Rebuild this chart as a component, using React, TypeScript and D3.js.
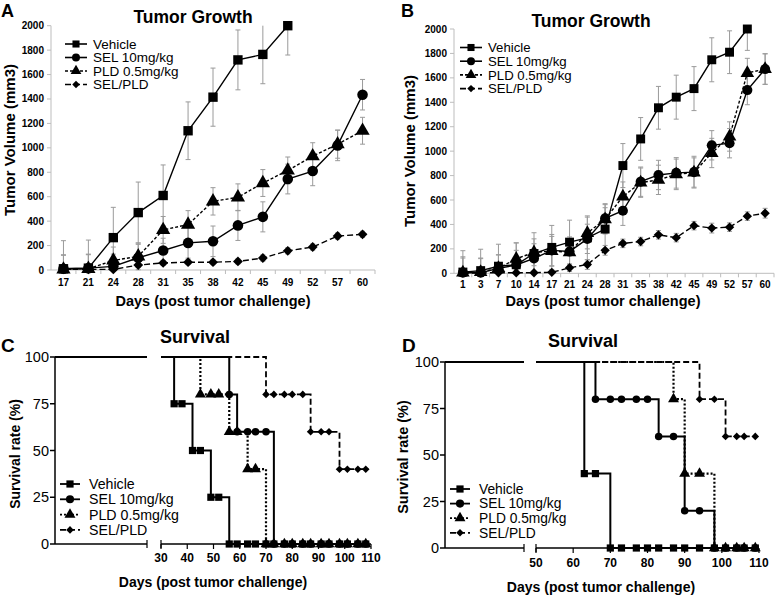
import React from 'react';
import * as d3 from 'd3';

const FONT = '"Liberation Sans", Arial, Helvetica, sans-serif';

// ---------- Tumor growth data (panel A) ----------
const daysA = [17, 21, 24, 28, 31, 35, 38, 42, 45, 49, 52, 57, 60];
const vehicleA = [10, 15, 265, 470, 610, 1140, 1415, 1720, 1765, 2000];
const vehicleAErr = [230, 230, 248, 250, 250, 236, 238, 245, 240, 240];
const selA = [10, 15, 30, 100, 160, 222, 235, 365, 435, 745, 810, 1020, 1435];
const selAErr = [110, 110, 100, 110, 100, 125, 125, 123, 123, 122, 120, 125, 125];
const pldA = [5, 10, 78, 112, 328, 372, 562, 595, 712, 815, 932, 1030, 1140];
const pldAErr = [120, 120, 110, 110, 110, 114, 112, 110, 110, 110, 110, 115, 110];
const comboA = [5, 5, 5, 40, 58, 64, 64, 70, 98, 157, 188, 278, 292];
const comboAErr = [20, 20, 20, 20, 20, 20, 20, 20, 25, 25, 25, 25, 25];

// ---------- Tumor growth data (panel B) ----------
const daysB = [1, 3, 7, 10, 14, 17, 21, 24, 28, 31, 35, 38, 42, 45, 49, 52, 57, 60];
const vehicleB = [10, 22, 58, 70, 162, 212, 255, 290, 362, 882, 1100, 1355, 1442, 1512, 1748, 1810, 2000];
const vehicleBErr = [175, 175, 180, 180, 170, 180, 180, 180, 175, 180, 175, 175, 180, 180, 180, 175, 175];
const selB = [5, 5, 40, 68, 122, 188, 178, 282, 450, 512, 750, 805, 822, 828, 1048, 1065, 1500, 1672];
const selBErr = [130, 120, 110, 120, 120, 130, 120, 120, 120, 120, 120, 120, 125, 130, 120, 120, 120, 125];
const pldB = [5, 10, 42, 118, 172, 182, 172, 330, 442, 628, 742, 765, 810, 825, 985, 1120, 1640, 1672];
const pldBErr = [120, 110, 110, 130, 110, 120, 110, 130, 120, 120, 120, 120, 125, 120, 120, 120, 120, 125];
const comboB = [3, 3, 5, 5, 5, 8, 45, 72, 188, 245, 260, 315, 292, 390, 370, 378, 468, 492];
const comboBErr = [10, 10, 10, 10, 10, 10, 30, 40, 40, 35, 35, 35, 35, 35, 40, 35, 35, 40];

const growthTicks = [0, 200, 400, 600, 800, 1000, 1200, 1400, 1600, 1800, 2000];

// ---------- Survival data (panel C) ----------
const vehicleCTimes = [35, 42, 49, 56];
const vehicleCVals = [75, 50, 25, 0];
const vehicleCMarks = [35, 38, 42, 45, 49, 52, 56, 59, 63, 66, 70, 73, 77, 80, 84, 87, 91, 94, 98, 101, 105, 108];
const selCTimes = [56, 59, 73];
const selCVals = [80, 60, 0];
const selCMarks = [56, 59, 63, 66, 70, 73, 77, 80, 84, 87, 91, 94, 98, 101, 105, 108];
const pldCTimes = [45, 56, 63, 70];
const pldCVals = [80, 60, 40, 0];
const pldCMarks = [45, 49, 52, 56, 59, 63, 66, 70, 73, 77, 80, 84, 87, 91, 94, 98, 101, 105, 108];
const comboCTimes = [70, 87, 98];
const comboCVals = [80, 60, 40];
const comboCMarks = [70, 73, 77, 80, 84, 87, 91, 94, 98, 101, 105, 108];

// ---------- Survival data (panel D) ----------
const vehicleDTimes = [63, 70];
const vehicleDVals = [40, 0];
const vehicleDMarks = [63, 66, 70, 73, 77, 80, 83, 87, 90, 94, 98, 101, 104, 106, 109];
const selDTimes = [66, 83, 90, 98];
const selDVals = [80, 60, 20, 0];
const selDMarks = [66, 70, 73, 77, 80, 83, 87, 90, 94, 98, 101, 104, 106, 109];
const pldDTimes = [87, 90, 98];
const pldDVals = [80, 40, 0];
const pldDMarks = [87, 90, 94, 98, 101, 104, 106, 109];
const comboDTimes = [94, 101];
const comboDVals = [80, 60];
const comboDMarks = [94, 98, 101, 104, 106, 109];

const survivalTicks = [0, 25, 50, 75, 100];
const survivalXTicksC = [30, 40, 50, 60, 70, 80, 90, 100, 110];
const survivalXTicksD = [50, 60, 70, 80, 90, 100, 110];

const legendNames = ['Vehicle', 'SEL 10mg/kg', 'PLD 0.5mg/kg', 'SEL/PLD'];

type Shape = 'square' | 'circle' | 'triangle' | 'diamond';

function symbolD(shape: Shape, size: number) {
  const t =
    shape === 'square' || shape === 'diamond'
      ? d3.symbolSquare
      : shape === 'circle'
      ? d3.symbolCircle
      : d3.symbolTriangle;
  return d3.symbol().type(t).size(size)() as string;
}

function Marker({ shape, x, y, size }: { shape: Shape; x: number; y: number; size: number }) {
  const s = shape === 'diamond' ? size * 0.55 : size;
  return (
    <path
      d={symbolD(shape, s)}
      transform={`translate(${x},${y})${shape === 'diamond' ? ' rotate(45)' : ''}`}
      fill="#000"
    />
  );
}

// ---------- Growth panel ----------
type GSeries = { vals: number[]; errs: number[]; shape: Shape; dash: string };

function GrowthPanel(p: {
  cats: number[];
  series: GSeries[];
  x0: number;
  x1: number;
  yTop: number;
  yBot: number;
  letter: string;
  letterX: number;
  letterY: number;
  titleX: number;
  titleY: number;
  ylabX: number;
  ylabY: number;
  xlabX: number;
  xlabY: number;
  xtickY: number;
  legX: number;
  legY: number;
  legDy: number;
  legFont: number;
  tickFont: number;
  msize: number;
}) {
  const x = d3.scaleBand<number>().domain(p.cats).range([p.x0, p.x1]);
  const bw = x.bandwidth();
  const cx = (d: number) => (x(d) as number) + bw / 2;
  const y = d3.scaleLinear().domain([0, 2000]).range([p.yBot, p.yTop]);
  const line = d3
    .line<[number, number]>()
    .x((d) => cx(d[0]))
    .y((d) => y(d[1]));
  const clamp = (v: number) => Math.max(0, Math.min(2000, v));
  const axisColor = '#bdbdbd';
  return (
    <g>
      <text x={p.letterX} y={p.letterY} fontSize={18} fontWeight="bold" fontFamily={FONT}>
        {p.letter}
      </text>
      <text x={p.titleX} y={p.titleY} fontSize={17.5} fontWeight="bold" fontFamily={FONT} textAnchor="middle">
        Tumor Growth
      </text>
      {/* y axis */}
      <line x1={p.x0} x2={p.x0} y1={y(0)} y2={y(2000)} stroke={axisColor} strokeWidth={1} />
      {growthTicks.map((t) => (
        <g key={t}>
          <line x1={p.x0 - 4} x2={p.x0} y1={y(t)} y2={y(t)} stroke={axisColor} />
          <text
            x={p.x0 - 7}
            y={y(t)}
            dy="0.35em"
            fontSize={p.tickFont}
            fontWeight="bold"
            fontFamily={FONT}
            textAnchor="end"
          >
            {t}
          </text>
        </g>
      ))}
      {/* x axis */}
      <line x1={p.x0} x2={p.x1} y1={y(0)} y2={y(0)} stroke={axisColor} strokeWidth={1} />
      {p.cats.map((c) => (
        <g key={c}>
          <line
            x1={(x(c) as number) + bw}
            x2={(x(c) as number) + bw}
            y1={y(0)}
            y2={y(0) + 4}
            stroke={axisColor}
          />
          <text
            x={cx(c)}
            y={p.xtickY}
            dy="0.35em"
            fontSize={p.tickFont}
            fontWeight="bold"
            fontFamily={FONT}
            textAnchor="middle"
          >
            {c}
          </text>
        </g>
      ))}
      {/* error bars */}
      {p.series.map((s, si) =>
        s.vals.map((v, i) => {
          const e = s.errs[i];
          const X = cx(p.cats[i]);
          const y1 = y(clamp(v - e));
          const y2 = y(clamp(v + e));
          return (
            <g key={`e${si}-${i}`} stroke="#9a9a9a" strokeWidth={1}>
              <line x1={X} x2={X} y1={y1} y2={y2} />
              {v + e <= 2000 && <line x1={X - 2.5} x2={X + 2.5} y1={y2} y2={y2} />}
              {v - e >= 0 && <line x1={X - 2.5} x2={X + 2.5} y1={y1} y2={y1} />}
            </g>
          );
        })
      )}
      {/* lines */}
      {p.series.map((s, si) => (
        <path
          key={`l${si}`}
          d={line(s.vals.map((v, i) => [p.cats[i], v] as [number, number])) as string}
          fill="none"
          stroke="#000"
          strokeWidth={1.4}
          strokeDasharray={s.dash}
        />
      ))}
      {/* markers */}
      {p.series.map((s, si) =>
        s.vals.map((v, i) => (
          <Marker key={`m${si}-${i}`} shape={s.shape} x={cx(p.cats[i])} y={y(v)} size={p.msize} />
        ))
      )}
      {/* legend */}
      {p.series.map((s, si) => {
        const ly = p.legY + si * p.legDy;
        return (
          <g key={`lg${si}`}>
            <line
              x1={p.legX}
              x2={p.legX + 22}
              y1={ly}
              y2={ly}
              stroke="#000"
              strokeWidth={1.6}
              strokeDasharray={s.dash}
            />
            <Marker shape={s.shape} x={p.legX + 11} y={ly} size={50} />
            <text x={p.legX + 28} y={ly} dy="0.35em" fontSize={p.legFont} fontFamily={FONT}>
              {legendNames[si]}
            </text>
          </g>
        );
      })}
      <text
        transform={`translate(${p.ylabX},${p.ylabY}) rotate(-90)`}
        fontSize={15}
        fontWeight="bold"
        fontFamily={FONT}
        textAnchor="middle"
        dy="0.35em"
      >
        Tumor Volume (mm3)
      </text>
      <text x={p.xlabX} y={p.xlabY} fontSize={14.5} fontWeight="bold" fontFamily={FONT} textAnchor="middle">
        Days (post tumor challenge)
      </text>
    </g>
  );
}

// ---------- Survival panel ----------
type SSeries = { times: number[]; vals: number[]; marks: number[]; shape: Shape; dash: string; width: number };

function SurvivalPanel(p: {
  id: string;
  series: SSeries[];
  axisX: number;
  y100: number;
  y0: number;
  seg1: [number, number];
  seg1Dom: [number, number];
  seg2: [number, number];
  seg2Dom: [number, number];
  xticks: number[];
  end: number;
  letter: string;
  letterX: number;
  letterY: number;
  titleX: number;
  titleY: number;
  ylabX: number;
  ylabY: number;
  ylabFont: number;
  xlabX: number;
  xlabY: number;
  xtickY: number;
  legX: number;
  legY: number;
  legDy: number;
  legFont: number;
}) {
  const y = d3.scaleLinear().domain([0, 100]).range([p.y0, p.y100]);
  const s1 = d3.scaleLinear().domain(p.seg1Dom).range(p.seg1);
  const s2 = d3.scaleLinear().domain(p.seg2Dom).range(p.seg2);
  const pts = (s: SSeries): [number, number][] => [
    [0, 100],
    ...s.times.map((t, i) => [t, s.vals[i]] as [number, number]),
    [p.end, s.vals[s.vals.length - 1]],
  ];
  const valAt = (s: SSeries, day: number) => {
    let v = 100;
    s.times.forEach((t, i) => {
      if (t <= day) v = s.vals[i];
    });
    return v;
  };
  const mk = (sc: d3.ScaleLinear<number, number>) =>
    d3
      .line<[number, number]>()
      .x((d) => sc(d[0]))
      .y((d) => y(d[1]))
      .curve(d3.curveStepAfter);
  const l1 = mk(s1);
  const l2 = mk(s2);
  const tf = { fontFamily: FONT };
  return (
    <g>
      <defs>
        <clipPath id={`${p.id}-c1`}>
          <rect x={p.seg1[0]} y={p.y100 - 10} width={p.seg1[1] - p.seg1[0]} height={p.y0 - p.y100 + 20} />
        </clipPath>
        <clipPath id={`${p.id}-c2`}>
          <rect x={p.seg2[0]} y={p.y100 - 10} width={p.seg2[1] - p.seg2[0] + 10} height={p.y0 - p.y100 + 20} />
        </clipPath>
      </defs>
      <text x={p.letterX} y={p.letterY} fontSize={19} fontWeight="bold" {...tf}>
        {p.letter}
      </text>
      <text x={p.titleX} y={p.titleY} fontSize={18} fontWeight="bold" textAnchor="middle" {...tf}>
        Survival
      </text>
      {/* y axis */}
      <line x1={p.axisX} x2={p.axisX} y1={p.y0} y2={p.y100} stroke="#000" strokeWidth={1.5} />
      {survivalTicks.map((t) => (
        <g key={t}>
          <line x1={p.axisX - 5} x2={p.axisX} y1={y(t)} y2={y(t)} stroke="#000" strokeWidth={1.5} />
          <text x={p.axisX - 6} y={y(t)} dy="0.35em" fontSize={14.5} textAnchor="end" {...tf}>
            {t}
          </text>
        </g>
      ))}
      {/* x axis segments */}
      <line x1={p.seg1[0]} x2={p.seg1[1]} y1={p.y0} y2={p.y0} stroke="#000" strokeWidth={1.5} />
      <line x1={p.seg1[1]} x2={p.seg1[1]} y1={p.y0 - 4} y2={p.y0 + 4} stroke="#000" strokeWidth={1.2} />
      <line x1={p.seg2[0]} x2={p.seg2[1]} y1={p.y0} y2={p.y0} stroke="#000" strokeWidth={1.5} />
      <line x1={p.seg2[0]} x2={p.seg2[0]} y1={p.y0 - 4} y2={p.y0 + 4} stroke="#000" strokeWidth={1.2} />
      {p.xticks.map((t) => (
        <g key={t}>
          <line x1={s2(t)} x2={s2(t)} y1={p.y0} y2={p.y0 + 5} stroke="#000" strokeWidth={1.2} />
          <text x={s2(t)} y={p.xtickY} dy="0.35em" fontSize={12} fontWeight="bold" textAnchor="middle" {...tf}>
            {t}
          </text>
        </g>
      ))}
      {/* step lines */}
      {p.series.map((s, si) => (
        <g key={`s${si}`} fill="none" stroke="#000" strokeWidth={s.width} strokeDasharray={s.dash}>
          <path d={l1(pts(s)) as string} clipPath={`url(#${p.id}-c1)`} />
          <path d={l2(pts(s)) as string} clipPath={`url(#${p.id}-c2)`} />
        </g>
      ))}
      {/* markers */}
      {p.series.map((s, si) =>
        s.marks.map((m, i) => (
          <Marker key={`m${si}-${i}`} shape={s.shape} x={s2(m)} y={y(valAt(s, m))} size={s.shape === 'circle' ? 44 : 52} />
        ))
      )}
      {/* legend */}
      {p.series.map((s, si) => {
        const ly = p.legY + si * p.legDy;
        return (
          <g key={`lg${si}`}>
            <line
              x1={p.legX}
              x2={p.legX + 20}
              y1={ly}
              y2={ly}
              stroke="#000"
              strokeWidth={1.8}
              strokeDasharray={s.dash}
            />
            <Marker shape={s.shape} x={p.legX + 10} y={ly} size={52} />
            <text x={p.legX + 29} y={ly} dy="0.35em" fontSize={p.legFont} {...tf}>
              {legendNames[si]}
            </text>
          </g>
        );
      })}
      <text
        transform={`translate(${p.ylabX},${p.ylabY}) rotate(-90)`}
        fontSize={p.ylabFont}
        fontWeight="bold"
        textAnchor="middle"
        dy="0.35em"
        {...tf}
      >
        Survival rate (%)
      </text>
      <text x={p.xlabX} y={p.xlabY} fontSize={14} fontWeight="bold" textAnchor="middle" {...tf}>
        Days (post tumor challenge)
      </text>
    </g>
  );
}

const dashes = ['', '', '3,2', '6,3'];

export default function App() {
  const seriesA: GSeries[] = [
    { vals: vehicleA, errs: vehicleAErr, shape: 'square', dash: dashes[0] },
    { vals: selA, errs: selAErr, shape: 'circle', dash: dashes[1] },
    { vals: pldA, errs: pldAErr, shape: 'triangle', dash: dashes[2] },
    { vals: comboA, errs: comboAErr, shape: 'diamond', dash: dashes[3] },
  ];
  const seriesB: GSeries[] = [
    { vals: vehicleB, errs: vehicleBErr, shape: 'square', dash: dashes[0] },
    { vals: selB, errs: selBErr, shape: 'circle', dash: dashes[1] },
    { vals: pldB, errs: pldBErr, shape: 'triangle', dash: dashes[2] },
    { vals: comboB, errs: comboBErr, shape: 'diamond', dash: dashes[3] },
  ];
  const seriesC: SSeries[] = [
    { times: vehicleCTimes, vals: vehicleCVals, marks: vehicleCMarks, shape: 'square', dash: '', width: 2 },
    { times: selCTimes, vals: selCVals, marks: selCMarks, shape: 'circle', dash: '', width: 2 },
    { times: pldCTimes, vals: pldCVals, marks: pldCMarks, shape: 'triangle', dash: '2,2', width: 2.2 },
    { times: comboCTimes, vals: comboCVals, marks: comboCMarks, shape: 'diamond', dash: '6,3', width: 1.8 },
  ];
  const seriesD: SSeries[] = [
    { times: vehicleDTimes, vals: vehicleDVals, marks: vehicleDMarks, shape: 'square', dash: '', width: 2 },
    { times: selDTimes, vals: selDVals, marks: selDMarks, shape: 'circle', dash: '', width: 2 },
    { times: pldDTimes, vals: pldDVals, marks: pldDMarks, shape: 'triangle', dash: '2,2', width: 2.2 },
    { times: comboDTimes, vals: comboDVals, marks: comboDMarks, shape: 'diamond', dash: '6,3', width: 1.8 },
  ];
  return (
    <svg
      width={778}
      height={598}
      viewBox="0 0 778 598"
      style={{ position: 'absolute', left: 0, top: 0, background: '#fff', display: 'block' }}
    >
      <rect width={778} height={598} fill="#fff" />
      <GrowthPanel
        cats={daysA}
        series={seriesA}
        x0={51}
        x1={375}
        yTop={25.7}
        yBot={270}
        letter="A"
        letterX={1}
        letterY={17}
        titleX={193}
        titleY={23}
        ylabX={10}
        ylabY={140}
        xlabX={213}
        xlabY={306}
        xtickY={282}
        legX={65}
        legY={44}
        legDy={13.5}
        legFont={13.5}
        tickFont={10}
        msize={88}
      />
      <GrowthPanel
        cats={daysB}
        series={seriesB}
        x0={454}
        x1={774}
        yTop={29}
        yBot={273.3}
        letter="B"
        letterX={401}
        letterY={17}
        titleX={591}
        titleY={27}
        ylabX={410}
        ylabY={151}
        xlabX={603}
        xlabY={306}
        xtickY={284.5}
        legX={460}
        legY={47.5}
        legDy={13.7}
        legFont={13.2}
        tickFont={10}
        msize={80}
      />
      <SurvivalPanel
        id="pc"
        series={seriesC}
        axisX={55}
        y100={357}
        y0={544}
        seg1={[55, 147]}
        seg1Dom={[0, 30]}
        seg2={[161, 371]}
        seg2Dom={[30, 110]}
        xticks={survivalXTicksC}
        end={109}
        letter="C"
        letterX={1}
        letterY={352}
        titleX={195}
        titleY={343}
        ylabX={15}
        ylabY={454}
        ylabFont={14}
        xlabX={213}
        xlabY={587}
        xtickY={558}
        legX={60}
        legY={484}
        legDy={15.3}
        legFont={14.2}
      />
      <SurvivalPanel
        id="pd"
        series={seriesD}
        axisX={445}
        y100={362}
        y0={548}
        seg1={[445, 524]}
        seg1Dom={[0, 50]}
        seg2={[536, 759]}
        seg2Dom={[50, 110]}
        xticks={survivalXTicksD}
        end={109}
        letter="D"
        letterX={402}
        letterY={352}
        titleX={583}
        titleY={347}
        ylabX={403}
        ylabY={457}
        ylabFont={14.5}
        xlabX={601}
        xlabY={592}
        xtickY={563}
        legX={450}
        legY={489}
        legDy={14.6}
        legFont={13.8}
      />
    </svg>
  );
}
